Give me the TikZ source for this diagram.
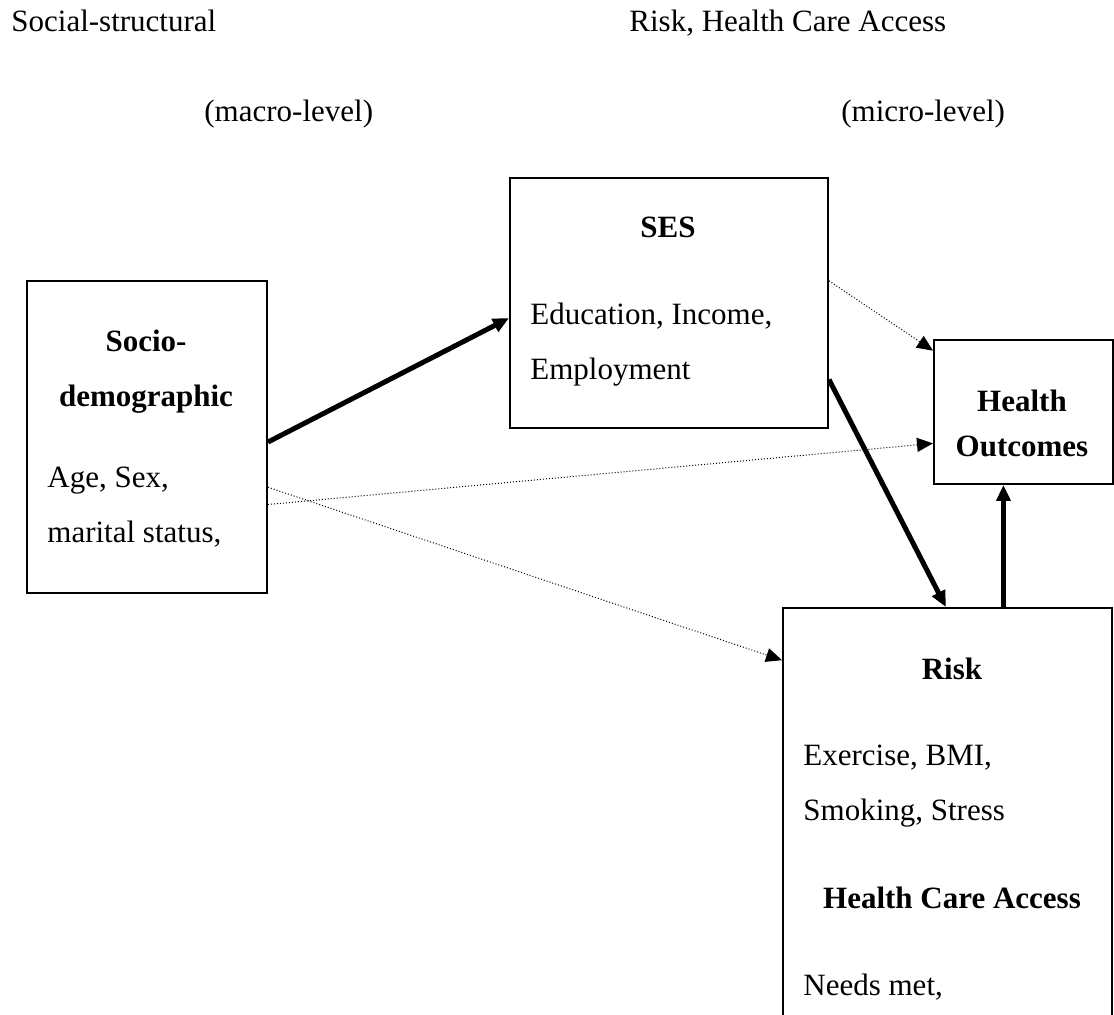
\documentclass[tikz,border=0pt]{standalone}
\usepackage{fontspec}
\setmainfont{Liberation Serif}
\usetikzlibrary{arrows.meta,calc}

\begin{document}
\begin{tikzpicture}
			[x=0.5pt, y=-0.5pt, font=\fontsize{15.5}{18}\selectfont,
			block/.style ={rectangle, draw, line width=1pt, inner sep=0pt, anchor=north west},
			txt/.style ={inner sep=0pt, anchor=base west},
			head/.style ={inner sep=0pt, anchor=base, font=\fontsize{15.5}{18}\selectfont\bfseries},
			strong/.style ={line width=2.5pt, -{Triangle[length=8pt,width=7pt]}},
			weak/.style ={line width=0.5pt, densely dotted, -{Triangle[length=8pt,width=7pt]}}]
			\clip (0,0) rectangle (1114,1015);
			\node[txt] (social) at (11,32) {Social-structural};
			\node[txt] (riskhca) at (629,32) {Risk, Health Care Access};
			\node[txt] (macro) at (204,122) {(macro-level)};
			\node[txt] (micro) at (841,122) {(micro-level)};
			\begin{scope}
				\node[block, minimum width=120pt, minimum height=156pt] (socio) at (26,280) {};
				\node[head] (socio1) at (146,352) {Socio-};
				\node[head] (socio2) at (146,407) {demographic};
				\node[txt] (socio3) at (47,488) {Age, Sex,};
				\node[txt] (socio4) at (47,543) {marital status,};
			\end{scope}
			\begin{scope}
				\node[block, minimum width=159pt, minimum height=125pt] (ses) at (509,177) {};
				\node[head] (ses1) at (668,238) {SES};
				\node[txt] (ses2) at (530,325) {Education, Income,};
				\node[txt] (ses3) at (530,380) {Employment};
			\end{scope}
			\begin{scope}
				\node[block, minimum width=89.5pt, minimum height=72pt] (health) at (933,339) {};
				\node[head] (health1) at (1022,412) {Health};
				\node[head] (health2) at (1022,457) {Outcomes};
			\end{scope}
			\begin{scope}
				\node[block, minimum width=164.5pt, minimum height=246.5pt] (risk) at (782,607) {};
				\node[head] (risk1) at (952,680) {Risk};
				\node[txt] (risk2) at (803,765) {Exercise, BMI,};
				\node[txt] (risk3) at (803,820) {Smoking, Stress};
				\node[head] (risk4) at (952,908) {Health Care Access};
				\node[txt] (risk5) at (803,995) {Needs met,};
			\end{scope}
			\coordinate (up) at ($(risk.north west)!0.669!(risk.north east)$);
			\draw[strong] ($(socio.north east)!0.516!(socio.south east)$) -- ($(ses.north west)!0.56!(ses.south west)$);
			\draw[strong] ($(ses.north east)!0.804!(ses.south east)$) -- ($(risk.north west)!0.495!(risk.north east)$);
			\draw[strong] (up) -- (up |- health.south);
			\draw[weak] ($(ses.north east)!0.412!(ses.south east)$) -- ($(health.north west)!0.08!(health.south west)$);
			\draw[weak] ($(socio.north east)!0.715!(socio.south east)$) -- ($(health.north west)!0.715!(health.south west)$);
			\draw[weak] ($(socio.north east)!0.66!(socio.south east)$) -- ($(risk.north west)!0.1075!(risk.south west)$);
		\end{tikzpicture}
\end{document}
